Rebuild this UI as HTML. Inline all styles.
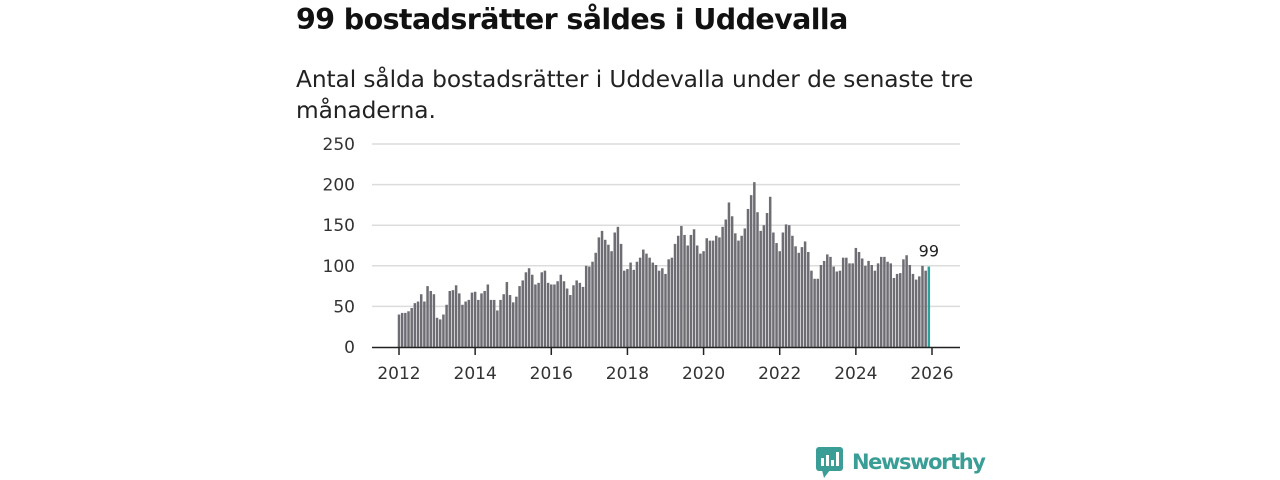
<!DOCTYPE html>
<html><head><meta charset="utf-8"><style>
body{margin:0;background:#fff;font-family:"Liberation Sans",sans-serif;}
#wrap{position:relative;width:1280px;height:480px;overflow:hidden;}
h1{position:absolute;left:296px;top:3px;margin:0;font-size:28.5px;font-weight:bold;color:#111;font-family:"DejaVu Sans","Liberation Sans",sans-serif;letter-spacing:-0.6px}
p.sub{position:absolute;left:296px;top:64px;margin:0;font-size:23.3px;line-height:31px;color:#222;width:720px;font-family:"DejaVu Sans","Liberation Sans",sans-serif;letter-spacing:-0.1px}
svg{position:absolute;left:0;top:0}
</style></head><body>
<div id="wrap">
<h1>99 bostadsrätter såldes i Uddevalla</h1>
<p class="sub">Antal sålda bostadsrätter i Uddevalla under de senaste tre<br>månaderna.</p>
<svg id="chart" width="1280" height="480"></svg>
</div>
<script>
const values=[40,42,42,44,48,54,56,65,56,75,69,65,36,34,40,52,69,70,76,66,52,56,58,67,68,58,66,69,77,58,58,45,58,65,80,64,55,62,75,82,92,97,89,77,79,92,94,79,77,77,81,89,81,72,64,76,82,79,74,100,99,105,116,135,143,132,126,118,141,148,127,94,96,104,95,105,110,120,115,110,104,101,94,97,90,108,110,127,137,149,138,125,138,145,125,115,118,134,131,131,137,135,148,157,178,161,140,131,137,146,170,187,203,166,143,150,165,185,141,128,118,141,151,150,137,124,116,123,130,117,94,84,84,101,106,114,111,99,93,94,110,110,103,103,122,117,109,100,106,101,94,103,111,111,105,103,85,90,91,108,113,101,90,83,87,100,94,99];
const startYear=2012;
const yTicks=[0,50,100,150,200,250];
const xTicks=[2012,2014,2016,2018,2020,2022,2024,2026];
const NS="http://www.w3.org/2000/svg";
const svg=document.getElementById('chart');
const x0=399,pxMonth=533/168,y0=347,pxUnit=203/250,left=372,right=960;
const xs=i=>x0+i*pxMonth, ys=v=>y0-v*pxUnit;
function mk(t,a){const e=document.createElementNS(NS,t);for(const k in a)e.setAttribute(k,a[k]);svg.appendChild(e);return e;}
yTicks.forEach(v=>{
  if(v>0){const l=mk('line',{x1:left,x2:right,y1:ys(v),y2:ys(v),stroke:'#dcdcdc','stroke-width':1.5});
  
  }
  const t=mk('text',{x:355,y:ys(v)+6,'text-anchor':'end','font-size':17,fill:'#333','font-family':'DejaVu Sans, Liberation Sans, sans-serif'});
  t.textContent=v;
  
  
});
values.forEach((v,i)=>{
  const last=i===values.length-1;
  const r=mk('rect',{x:xs(i)-1.25,y:ys(v),width:2.5,height:v*pxUnit,fill:last?'#2aa39a':'#6e6d73'});
  
  
});
const ax=mk('line',{x1:left,x2:right,y1:y0+0.5,y2:y0+0.5,stroke:'#222','stroke-width':1.5});


xTicks.forEach(yr=>{
  const x=xs((yr-startYear)*12);
  const tk=mk('line',{x1:x,x2:x,y1:y0,y2:y0+8,stroke:'#222','stroke-width':1.5});
  
  
  const t=mk('text',{x:x,y:y0+32,'text-anchor':'middle','font-size':17,fill:'#333','font-family':'DejaVu Sans, Liberation Sans, sans-serif'});
  t.textContent=yr;
  
  
});
const li=values.length-1;
const lab=mk('text',{x:xs(li),y:ys(values[li])-10,'text-anchor':'middle','font-size':16,fill:'#222','font-family':'DejaVu Sans, Liberation Sans, sans-serif'});
lab.textContent=values[li];


</script>
<svg width="1280" height="480" style="pointer-events:none">
<rect x="816" y="447" width="27" height="24" rx="3" fill="#3a9e96"/>
<polygon points="822,470 830,470 824,478" fill="#3a9e96"/>
<rect x="821" y="458" width="3" height="8" fill="#fff"/><rect x="826" y="455" width="3" height="11" fill="#fff"/><rect x="831" y="460" width="3" height="6" fill="#fff"/><rect x="836" y="452" width="3" height="14" fill="#fff"/>
<text x="852" y="469" font-size="21" font-weight="bold" fill="#3a9e96" font-family="DejaVu Sans, Liberation Sans, sans-serif" letter-spacing="-1.4">Newsworthy</text>
</svg>
</body></html>
